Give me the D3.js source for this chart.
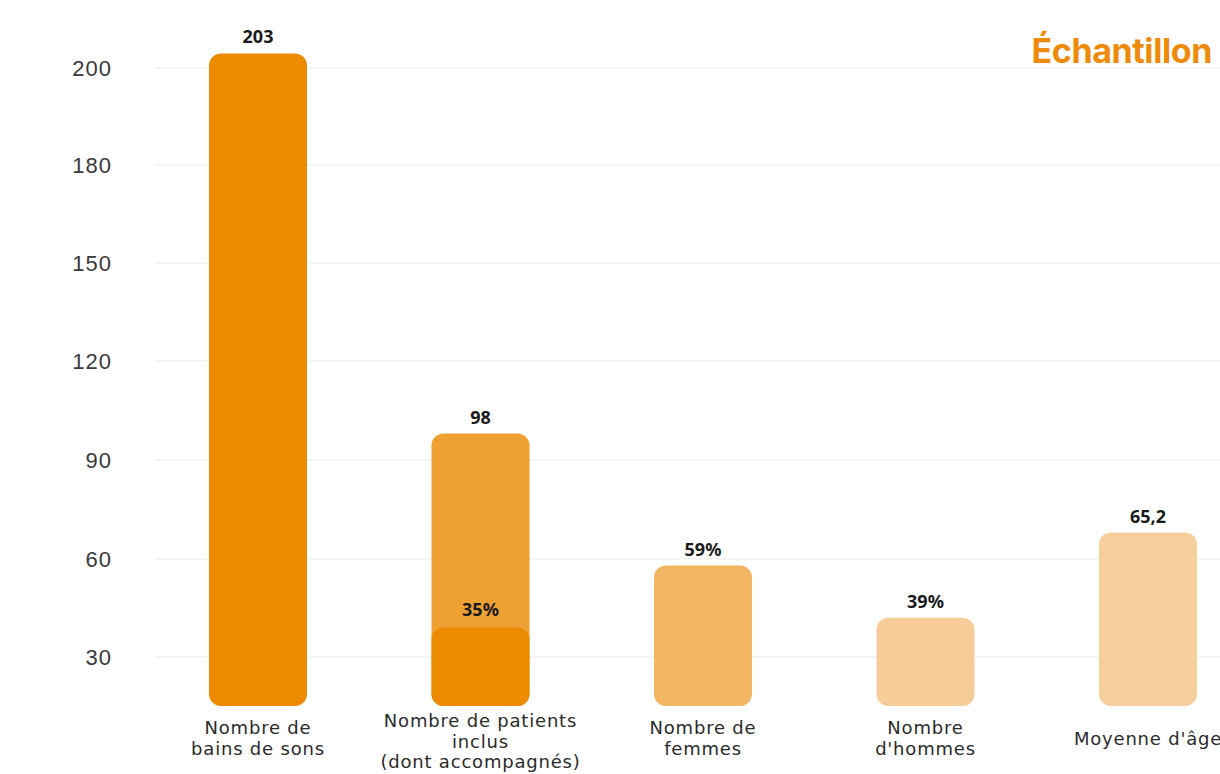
<!DOCTYPE html>
<html>
<head>
    <title>Échantillon</title>
    <script src="https://d3js.org/d3.v7.min.js"></script>
    <style>
        body { margin: 0; background: #fff; }
        svg { display: block; }
    </style>
</head>
<body>
<svg id="chart" width="1220" height="774"></svg>
<script>
    // categories (lines of each label)
    const categories = [
        ["Nombre de", "bains de sons"],
        ["Nombre de patients", "inclus", "(dont accompagnés)"],
        ["Nombre de", "femmes"],
        ["Nombre", "d'hommes"],
        ["Moyenne d'âge"]
    ];
    const barValues = [203, 98, 58, 42, 68];
    const valueLabels = ["203", "98", "59%", "39%", "65,2"];
    // inner part of the second bar (accompagnés)
    const innerValue = 39;
    const innerLabel = "35%";
    const barColors = ["#ec8a00", "#efa033", "#f2b562", "#f6cd98", "#f6cf9c"];
    // axis ticks (drawn evenly spaced in the original)
    const yTicks = [30, 60, 90, 120, 150, 180, 200];
    const baseValue = 15;

    const svg = d3.select("#chart");

    const y = d3.scaleLinear()
        .domain(yTicks)
        .range([657, 559, 460, 361, 263, 165, 68]);

    const x = d3.scalePoint()
        .domain(d3.range(categories.length))
        .range([258, 1148]);

    const barW = 98;

    // grid lines
    svg.append("g")
        .selectAll("line")
        .data(yTicks)
        .join("line")
        .attr("x1", 155)
        .attr("x2", 1220)
        .attr("y1", d => y(d))
        .attr("y2", d => y(d))
        .attr("stroke", "#ebebeb")
        .attr("stroke-width", 1);

    // y axis labels
    svg.append("g")
        .selectAll("text")
        .data(yTicks)
        .join("text")
        .attr("x", 112)
        .attr("y", d => y(d))
        .attr("dy", "0.35em")
        .attr("text-anchor", "end")
        .style("font-family", "'Liberation Sans', Arial, sans-serif")
        .style("font-size", "22px")
        .style("letter-spacing", "1px")
        .style("fill", "#3a3a3a")
        .text(d => d);

    // bars
    svg.append("g")
        .selectAll("rect")
        .data(barValues)
        .join("rect")
        .attr("x", (d, i) => x(i) - barW / 2)
        .attr("y", d => y(d))
        .attr("width", barW)
        .attr("height", d => y(baseValue) - y(d))
        .attr("rx", 12)
        .attr("fill", (d, i) => barColors[i]);

    // inner bar in 2nd column
    svg.append("rect")
        .attr("x", x(1) - barW / 2)
        .attr("y", y(innerValue))
        .attr("width", barW)
        .attr("height", y(baseValue) - y(innerValue))
        .attr("rx", 12)
        .attr("fill", barColors[0]);

    // value labels
    const valueStyle = sel => sel
        .attr("text-anchor", "middle")
        .style("font-family", "'Noto Sans', 'Open Sans', sans-serif")
        .style("font-weight", "700")
        .style("font-size", "18px")
        .style("fill", "#1a1a1a");

    svg.append("g")
        .selectAll("text")
        .data(barValues)
        .join("text")
        .attr("x", (d, i) => x(i))
        .attr("y", d => y(d) - 10)
        .call(valueStyle)
        .text((d, i) => valueLabels[i]);

    svg.append("text")
        .attr("x", x(1))
        .attr("y", y(innerValue) - 12)
        .call(valueStyle)
        .text(innerLabel);

    // category labels
    const catG = svg.append("g")
        .selectAll("text")
        .data(categories)
        .join("text")
        .attr("text-anchor", "middle")
        .attr("x", (d, i) => x(i))
        .attr("y", d => d.length === 1 ? 745 : (d.length === 3 ? 727 : 734))
        .style("font-family", "'DejaVu Sans', sans-serif")
        .style("font-size", "18px")
        .style("letter-spacing", "0.8px")
        .style("fill", "#2b2b2b");

    catG.selectAll("tspan")
        .data(d => d)
        .join("tspan")
        .attr("x", function () { return d3.select(this.parentNode).attr("x"); })
        .attr("dy", (d, i) => i === 0 ? 0 : "1.15em")
        .text(d => d);

    // title
    svg.append("text")
        .attr("x", 1212)
        .attr("y", 63)
        .attr("text-anchor", "end")
        .style("font-family", "Inter, 'Liberation Sans', sans-serif")
        .style("font-weight", "700")
        .style("font-size", "34px")
        .style("letter-spacing", "-0.4px")
        .style("fill", "#ee8b0c")
        .text("Échantillon");
</script>
</body>
</html>
